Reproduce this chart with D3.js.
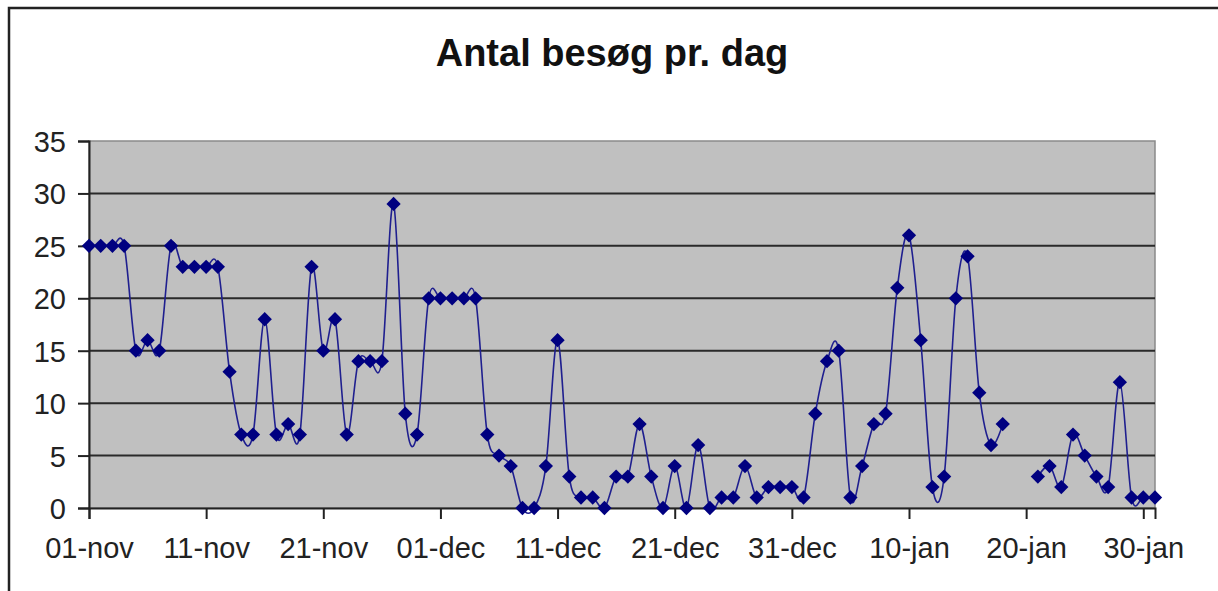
<!DOCTYPE html>
<html>
<head>
<meta charset="utf-8">
<script src="https://cdn.jsdelivr.net/npm/d3@7"></script>
<style>
  body { margin: 0; background: #fff; }
  svg { display: block; font-family: "Liberation Sans", Arial, sans-serif; }
</style>
</head>
<body>
<div id="viz"></div>
<script>
// visits per day, starting 01-nov (null = no data)
const startDay = "2004-11-01";
const visits = [
  25, 25, 25, 25, 15, 16, 15, 25, 23, 23,
  23, 23, 13, 7, 7, 18, 7, 8, 7, 23,
  15, 18, 7, 14, 14, 14, 29, 9, 7, 20,
  20, 20, 20, 20, 7, 5, 4, 0, 0, 4,
  16, 3, 1, 1, 0, 3, 3, 8, 3, 0,
  4, 0, 6, 0, 1, 1, 4, 1, 2, 2,
  2, 1, 9, 14, 15, 1, 4, 8, 9, 21,
  26, 16, 2, 3, 20, 24, 11, 6, 8, null,
  null, 3, 4, 2, 7, 5, 3, 2, 12, 1,
  1, 1
];
const xTickLabels = ["01-nov", "11-nov", "21-nov", "01-dec", "11-dec", "21-dec", "31-dec", "10-jan", "20-jan", "30-jan"];
const yTicks = [0, 5, 10, 15, 20, 25, 30, 35];
const title = "Antal besøg pr. dag";

const parseDate = d3.utcParse("%Y-%m-%d");
const day0 = parseDate(startDay);
const data = visits.map((v, i) => ({date: d3.utcDay.offset(day0, i), value: v}));
const xTickDates = xTickLabels.map((l, i) => d3.utcDay.offset(day0, i * 10));

const width = 1218, height = 591;
const plot = {left: 89, right: 1155, top: 141, bottom: 508};

const svg = d3.select("#viz").append("svg")
    .attr("width", width)
    .attr("height", height);

// chart frame
svg.append("rect")
    .attr("x", 9).attr("y", 8)
    .attr("width", 1240).attr("height", 620)
    .attr("fill", "#fff")
    .attr("stroke", "#222")
    .attr("stroke-width", 2.5);

svg.append("text")
    .attr("x", 612).attr("y", 66)
    .attr("text-anchor", "middle")
    .attr("font-size", 38)
    .attr("font-weight", "bold")
    .attr("fill", "#111")
    .text(title);

const xScale = d3.scaleUtc()
    .domain([day0, data[data.length - 1].date])
    .range([plot.left, plot.right]);

const yScale = d3.scaleLinear()
    .domain([0, 35])
    .range([plot.bottom, plot.top]);

// plot area
svg.append("rect")
    .attr("x", plot.left).attr("y", plot.top)
    .attr("width", plot.right - plot.left)
    .attr("height", plot.bottom - plot.top)
    .attr("fill", "#c0c0c0")
    .attr("stroke", "#8a8a8a")
    .attr("stroke-width", 1.5);

// gridlines
svg.append("g")
    .selectAll("line")
    .data(yTicks.filter(d => d > 0 && d < 35))
    .enter().append("line")
        .attr("x1", plot.left).attr("x2", plot.right)
        .attr("y1", d => yScale(d)).attr("y2", d => yScale(d))
        .attr("stroke", "#2a2a2a")
        .attr("stroke-width", 2);

const yAxis = d3.axisLeft(yScale)
    .tickValues(yTicks)
    .tickSize(11)
    .tickPadding(12)
    .tickFormat(d3.format("d"));

const xAxis = d3.axisBottom(xScale)
    .tickValues(xTickDates)
    .tickSize(11)
    .tickPadding(18)
    .tickFormat((d, i) => xTickLabels[i]);

const gy = svg.append("g")
    .attr("transform", `translate(${plot.left}, 0)`)
    .call(yAxis);

const gx = svg.append("g")
    .attr("transform", `translate(0, ${plot.bottom})`)
    .call(xAxis);

[gx, gy].forEach(g => {
    g.select(".domain").attr("stroke", "#222").attr("stroke-width", 2);
    g.selectAll(".tick line").attr("stroke", "#222").attr("stroke-width", 2);
    g.selectAll(".tick text")
        .attr("font-size", 29)
        .attr("fill", "#222")
        .attr("font-family", "'Liberation Sans', Arial, sans-serif");
});
gy.selectAll(".tick text").attr("dy", "0.36em");

// smoothed line like the spreadsheet's
const line = d3.line()
    .defined(d => d.value !== null)
    .curve(d3.curveCardinal.tension(0))
    .x(d => xScale(d.date))
    .y(d => yScale(d.value));

svg.append("path")
    .datum(data)
    .attr("fill", "none")
    .attr("stroke", "#1f1f8f")
    .attr("stroke-width", 1.6)
    .attr("d", line);

svg.append("g")
    .selectAll("path")
    .data(data.filter(d => d.value !== null))
    .enter().append("path")
        .attr("d", d3.symbol(d3.symbolDiamond2, 130))
        .attr("transform", d => `translate(${xScale(d.date)}, ${yScale(d.value)})`)
        .attr("fill", "#000080");
</script>
</body>
</html>
